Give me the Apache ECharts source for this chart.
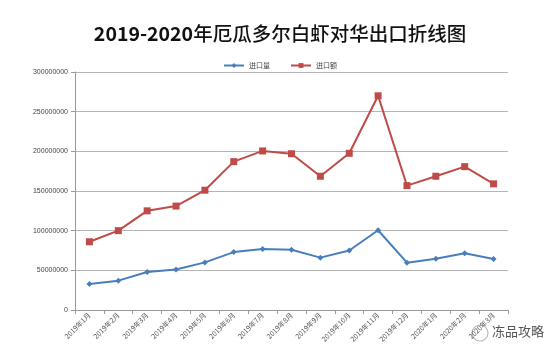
<!DOCTYPE html>
<html>
<head>
<meta charset="utf-8">
<script src="https://cdn.jsdelivr.net/npm/echarts@6/dist/echarts.min.js"></script>
<style>html,body{margin:0;padding:0;background:#fff;}#c{width:560px;height:360px;}</style>
</head>
<body>
<div id="c"></div>
<script>
var categories = ['2019年1月','2019年2月','2019年3月','2019年4月','2019年5月','2019年6月','2019年7月','2019年8月','2019年9月','2019年10月','2019年11月','2019年12月','2020年1月','2020年2月','2020年3月'];
var volume = [32800000,37000000,48000000,51000000,60000000,73000000,77000000,76000000,66000000,75000000,100500000,59700000,64700000,71500000,64300000];
var amount = [86000000,100000000,125000000,131000000,151000000,187000000,200500000,197000000,168600000,197500000,270000000,156800000,168600000,180700000,159000000];
var yTicks = [0,50000000,100000000,150000000,200000000,250000000,300000000];

var chart = echarts.init(document.getElementById('c'), null, {renderer:'canvas'});
chart.setOption({
  backgroundColor:'#fff',
  animation:false,
  title:{
    text:'{a|2019-2020}{b|年厄瓜多尔白虾对华出口折线图}',
    left:'center', top:19,
    textStyle:{
      rich:{
        a:{fontFamily:'Noto Sans CJK SC', fontSize:19.5, fontWeight:'bold', color:'#111'},
        b:{fontFamily:'Noto Sans CJK SC', fontSize:19.5, fontWeight:500, color:'#111'}
      }
    }
  },
  legend:{
    top:57, left:'center', itemGap:20, itemWidth:20, itemHeight:6,
    textStyle:{fontFamily:'Noto Sans CJK SC', fontSize:7, color:'#444'},
    data:['进口量','进口额']
  },
  grid:{left:75, right:52, top:72, bottom:50},
  xAxis:{
    type:'category', data:categories, boundaryGap:true,
    axisLine:{lineStyle:{color:'#999'}},
    axisTick:{show:true, alignWithLabel:false, length:4, lineStyle:{color:'#999'}},
    axisLabel:{rotate:45, fontSize:7, color:'#555', fontFamily:'Noto Sans CJK SC', margin:4}
  },
  yAxis:{
    type:'value', min:yTicks[0], max:yTicks[yTicks.length-1], interval:50000000,
    axisLine:{show:true, lineStyle:{color:'#999'}},
    axisTick:{show:true, length:4, lineStyle:{color:'#999'}},
    splitLine:{lineStyle:{color:'#b5b5b5'}},
    axisLabel:{fontSize:7, color:'#444', fontFamily:'Liberation Sans', margin:7,
      formatter:function(v){return String(v);}}
  },
  series:[
    {name:'进口量', type:'line', data:volume, symbol:'diamond', symbolSize:6,
     itemStyle:{color:'#4a7ebb'}, lineStyle:{color:'#4a7ebb', width:2}},
    {name:'进口额', type:'line', data:amount, symbol:'rect', symbolSize:7,
     itemStyle:{color:'#be4b48'}, lineStyle:{color:'#be4b48', width:2}}
  ],
  graphic:[
    {type:'circle', shape:{cx:480, cy:333, r:8}, style:{fill:'none', stroke:'#bbb', lineWidth:1.2}},
    {type:'text', left:492, top:325, style:{text:'冻品攻略', fontFamily:'Noto Sans CJK SC', fontSize:13, fill:'#555'}}
  ]
});
</script>
</body>
</html>
